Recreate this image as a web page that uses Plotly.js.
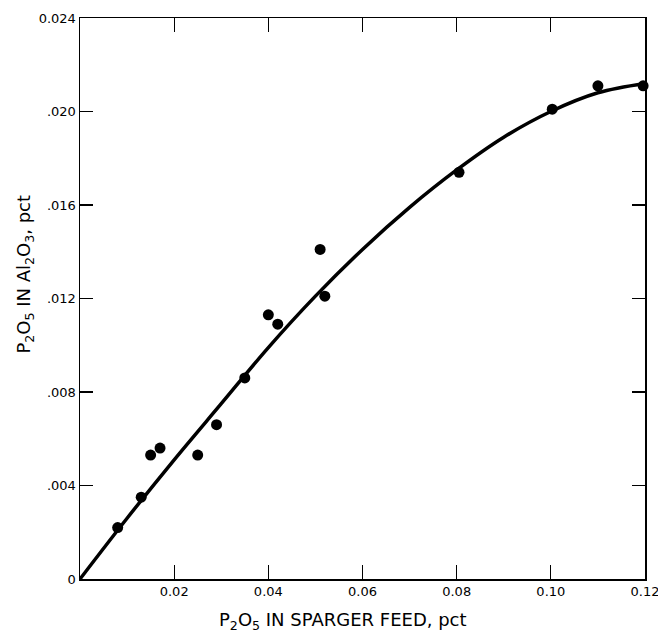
<!DOCTYPE html>
<html>
<head>
<meta charset="utf-8">
<script src="https://cdn.plot.ly/plotly-3.0.1.min.js"></script>
<style>html,body{margin:0;padding:0;background:#fff;}#chart{width:658px;height:636px;}</style>
</head>
<body>
<div id="chart"></div>
<script>
// Measured points: P2O5 in sparger feed (pct) vs P2O5 in Al2O3 (pct)
const feedPct = [0.008, 0.013, 0.015, 0.017, 0.025, 0.029, 0.035, 0.040, 0.042, 0.051, 0.052, 0.0805, 0.1003, 0.110, 0.1196];
const aluminaPct = [0.0022, 0.0035, 0.0053, 0.0056, 0.0053, 0.0066, 0.0086, 0.0113, 0.0109, 0.0141, 0.0121, 0.0174, 0.0201, 0.0211, 0.0211];
// Fitted curve
const curveX = [0, 0.01, 0.02, 0.03, 0.04, 0.05, 0.06, 0.07, 0.08, 0.09, 0.10, 0.11, 0.12];
const curveY = [0, 0.0026, 0.0051, 0.0075, 0.0099, 0.0121, 0.0141, 0.0159, 0.0175, 0.0189, 0.0200, 0.0208, 0.0212];
// Tick labels
const xTickVals = [0.02, 0.04, 0.06, 0.08, 0.10, 0.12];
const xTickText = ['0.02', '0.04', '0.06', '0.08', '0.10', '0.12'];
const yTickVals = [0, 0.004, 0.008, 0.012, 0.016, 0.020, 0.024];
const yTickText = ['0', '.004', '.008', '.012', '.016', '.020', '0.024'];
const xTitle = 'P<sub>2</sub>O<sub>5</sub> IN SPARGER FEED, pct';
const yTitle = 'P<sub>2</sub>O<sub>5</sub> IN Al<sub>2</sub>O<sub>3</sub>, pct';

const traces = [
  {x: curveX, y: curveY, mode: 'lines', line: {color: '#000', width: 3.5, shape: 'spline', smoothing: 1}, hoverinfo: 'skip', cliponaxis: false},
  {x: feedPct, y: aluminaPct, mode: 'markers', marker: {color: '#000', size: 11}, cliponaxis: false}
];
const fam = 'DejaVu Sans, Arial, sans-serif';
const axisCommon = {
  showline: true, linecolor: '#000', linewidth: 1.5, mirror: 'allticks',
  showgrid: false, zeroline: false, tickcolor: '#000', tickwidth: 1.3,
  ticks: 'inside', ticklabeloverflow: 'allow',
  tickfont: {family: fam, size: 13, color: '#000'}
};
const layout = {
  width: 658, height: 636,
  margin: {l: 80, r: 13, t: 18, b: 57},
  paper_bgcolor: '#fff', plot_bgcolor: '#fff',
  showlegend: false,
  font: {family: fam, color: '#000'},
  xaxis: Object.assign({}, axisCommon, {range: [0, 0.12], tickvals: xTickVals, ticktext: xTickText, ticklen: 14}),
  yaxis: Object.assign({}, axisCommon, {range: [0, 0.024], tickvals: yTickVals, ticktext: yTickText, ticklen: 13}),
  annotations: [
    {text: xTitle, xref: 'paper', yref: 'paper', x: 0.465, y: -0.075, xanchor: 'center', yanchor: 'middle', showarrow: false,
     font: {family: fam, size: 18, color: '#000'}},
    {text: yTitle, xref: 'paper', yref: 'paper', x: -0.097, y: 0.543, xanchor: 'center', yanchor: 'middle', textangle: -90, showarrow: false,
     font: {family: fam, size: 18, color: '#000'}}
  ]
};
Plotly.newPlot('chart', traces, layout, {displayModeBar: false, staticPlot: true});
</script>
</body>
</html>
